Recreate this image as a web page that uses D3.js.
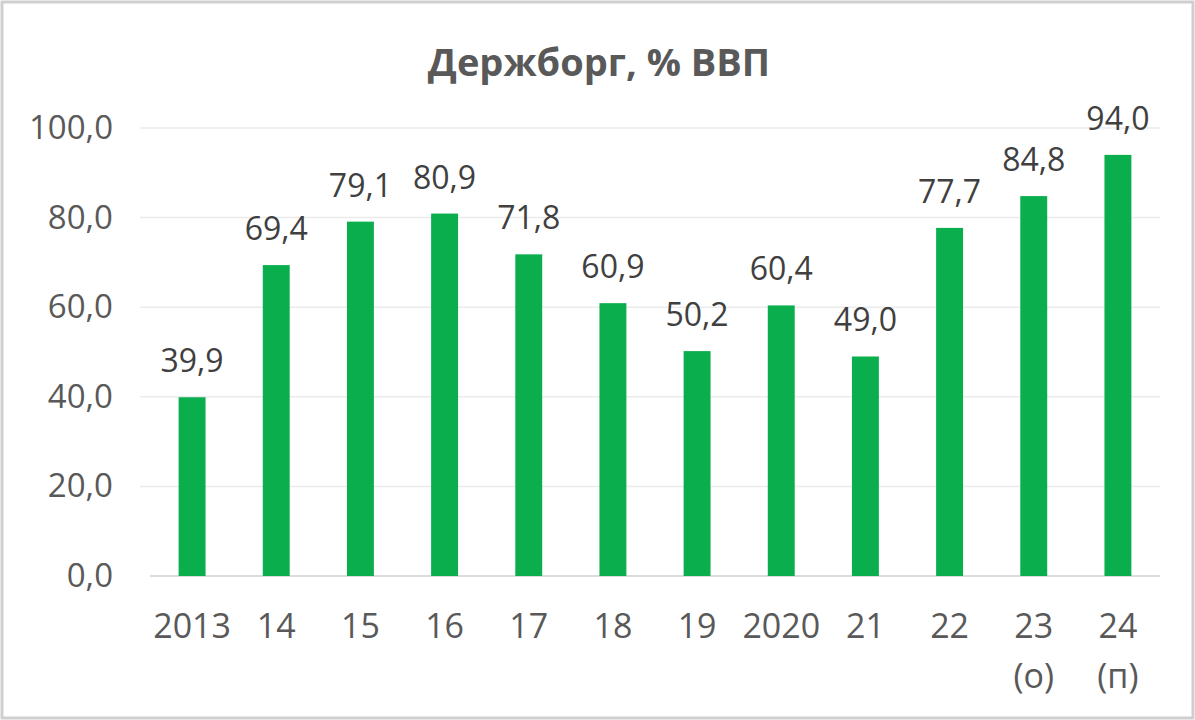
<!DOCTYPE html>
<html>
<head>
<meta charset="utf-8">
<script src="https://cdn.jsdelivr.net/npm/d3@7.9.0/dist/d3.min.js"></script>
<style>
  html, body { margin: 0; padding: 0; background: #fff; }
  svg { display: block; font-family: "Open Sans", "Noto Sans", sans-serif; }
</style>
</head>
<body>
<svg id="chart" width="1195" height="720"></svg>
<script>
// chart data
const years = ['2013', '14', '15', '16', '17', '18', '19', '2020', '21', '22', '23', '24'];
const subLabels = ['', '', '', '', '', '', '', '', '', '', '(о)', '(п)'];
const debt = [39.9, 69.4, 79.1, 80.9, 71.8, 60.9, 50.2, 60.4, 49.0, 77.7, 84.8, 94.0];
const yTicks = [0, 20, 40, 60, 80, 100];
const title = 'Держборг, % ВВП';

const svg = d3.select('#chart');
const W = 1195, H = 720;
const margin = { top: 128, right: 35, bottom: 144, left: 150 };

const fmt = v => d3.format('.1f')(v).replace('.', ',');

// frame
svg.append('rect')
    .attr('x', 2).attr('y', 2)
    .attr('width', W - 4).attr('height', H - 4)
    .attr('fill', '#fff')
    .attr('stroke', '#cfcfcf')
    .attr('stroke-width', 3);

const x = d3.scaleBand()
    .domain(years)
    .range([margin.left, W - margin.right])
    .paddingInner(0.68)
    .paddingOuter(0.34);

const y = d3.scaleLinear()
    .domain([0, 100])
    .range([H - margin.bottom, margin.top]);

// gridlines
svg.append('g')
    .selectAll('line')
    .data(yTicks)
    .join('line')
    .attr('x1', d => d === 0 ? margin.left : margin.left - 10)
    .attr('x2', W - margin.right)
    .attr('y1', d => y(d))
    .attr('y2', d => y(d))
    .attr('stroke', d => d === 0 ? '#d0d0d0' : '#ebebeb')
    .attr('stroke-width', 1.5);

// y axis labels
const yAxis = d3.axisLeft(y).tickValues(yTicks).tickFormat(fmt).tickSize(0).tickPadding(0);
svg.append('g')
    .attr('transform', 'translate(113,0)')
    .call(yAxis)
    .call(g => g.select('.domain').remove())
    .selectAll('text')
    .attr('fill', '#595959')
    .attr('font-size', 33)
    .attr('font-family', '"Open Sans", sans-serif');

// bars
svg.append('g')
    .selectAll('rect')
    .data(debt)
    .join('rect')
    .attr('x', (d, i) => x(years[i]))
    .attr('y', d => y(d))
    .attr('width', x.bandwidth())
    .attr('height', d => y(0) - y(d))
    .attr('fill', '#0AAE4D');

// value labels
svg.append('g')
    .selectAll('text')
    .data(debt)
    .join('text')
    .attr('x', (d, i) => x(years[i]) + x.bandwidth() / 2)
    .attr('y', d => y(d) - 25)
    .attr('text-anchor', 'middle')
    .attr('fill', '#404040')
    .attr('font-size', 32)
    .text(d => fmt(d));

// x labels
const xAxis = d3.axisBottom(x).tickSize(0).tickPadding(0);
svg.append('g')
    .attr('transform', `translate(0,${y(0)})`)
    .call(xAxis)
    .call(g => g.select('.domain').remove())
    .selectAll('.tick text')
    .attr('fill', '#595959')
    .attr('font-size', 34)
    .attr('font-family', '"Open Sans", sans-serif')
    .attr('dy', null)
    .attr('y', 62);

svg.append('g')
    .selectAll('text')
    .data(subLabels)
    .join('text')
    .attr('x', (d, i) => x(years[i]) + x.bandwidth() / 2)
    .attr('y', y(0) + 112)
    .attr('text-anchor', 'middle')
    .attr('fill', '#595959')
    .attr('font-size', 34)
    .text(d => d);

// title
svg.append('text')
    .attr('x', 599)
    .attr('y', 76)
    .attr('text-anchor', 'middle')
    .attr('fill', '#595959')
    .attr('font-size', 38)
    .attr('font-weight', 'bold')
    .text(title);
</script>
</body>
</html>
